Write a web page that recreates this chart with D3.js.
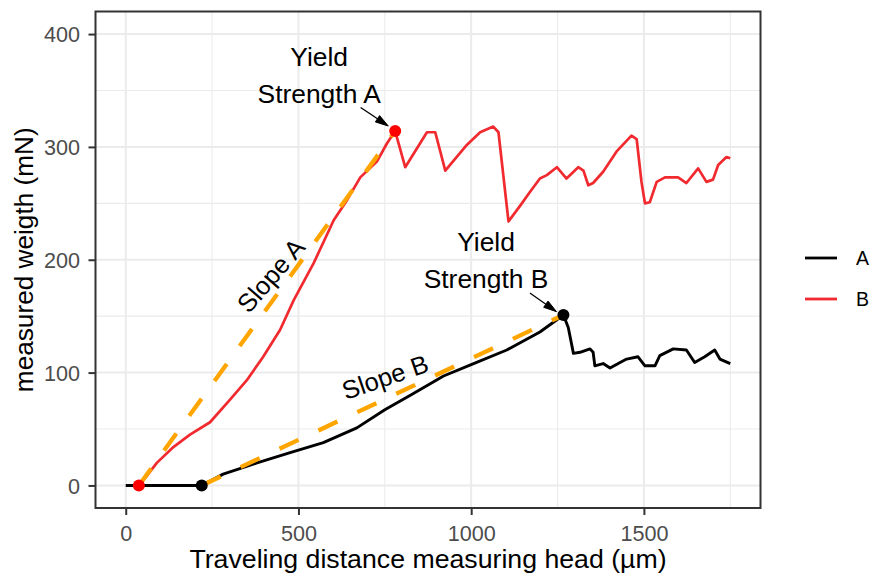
<!DOCTYPE html>
<html>
<head>
<meta charset="utf-8">
<script src="https://cdn.jsdelivr.net/npm/d3@7"></script>
<style>
  html, body { margin: 0; padding: 0; background: #fff; }
  svg { display: block; font-family: "Liberation Sans", Arial, sans-serif; }
</style>
</head>
<body>
<svg id="chart" width="872" height="575"></svg>
<script>
// Measurement A (black): travel distance (µm) and force (mN)
const distA = [0, 220, 282, 380, 476, 572, 669, 750, 824, 920, 1007, 1103, 1199, 1267,
  1281, 1296, 1315, 1344, 1353, 1358, 1382, 1402, 1431, 1450, 1483, 1503, 1532, 1546,
  1585, 1623, 1647, 1676, 1705, 1720, 1750];
const forceA = [0, 0, 10, 20, 29, 38, 51, 67, 80, 97, 108, 120, 136, 151,
  140, 117, 118, 121, 118, 106, 108, 104, 109, 112, 114, 106, 106, 115,
  121, 120, 109, 114, 120, 112, 108];

// Measurement B (red)
const distB = [38, 60, 90, 138, 186, 244, 302, 350, 398, 447, 486, 544, 602, 641, 679, 727,
  756, 780, 809, 872, 896, 925, 988, 1026, 1064, 1079, 1108, 1142, 1170, 1199, 1219,
  1248, 1276, 1310, 1325, 1339, 1353, 1382, 1421, 1464, 1479, 1493, 1503, 1517, 1537,
  1561, 1599, 1623, 1657, 1681, 1700, 1715, 1739, 1750];
const forceB = [0, 8, 20, 34, 45, 56, 76, 93, 114, 138, 164, 197, 235, 253, 273, 287,
  303, 314, 282, 313, 313, 279, 302, 313, 318, 313, 234, 248, 260, 272, 275,
  282, 272, 282, 279, 266, 268, 278, 296, 310, 307, 269, 250, 251, 269,
  273, 273, 268, 281, 269, 271, 284, 291, 290];

// Elastic onset and yield points (A label sits on the red curve, B on the black one)
const onsetX = [38, 220];
const onsetY = [0, 0];
const yieldX = [780, 1267];
const yieldY = [314, 151];

// Tick values
const xTicks = [0, 500, 1000, 1500];
const yTicks = [0, 100, 200, 300, 400];
const legendLabels = ["A", "B"];

// Annotation text blocks and arrows
const annoX = [560, 1043];
const annoY = [355, 191];
const annoText = [["Yield", "Strength A"], ["Yield", "Strength B"]];
const arrowFromX = [680, 1170];
const arrowFromY = [335, 170.5];
const arrowToX = [760, 1247];
const arrowToY = [318.5, 154];

const slopeLabel = ["Slope A", "Slope B"];
const slopeLabelX = [420, 751];
const slopeLabelY = [186, 96];
const slopeLabelAngle = [-49, -19];

// ---- layout ----
const svg = d3.select("#chart");
const P = { left: 95.5, right: 760.5, top: 11.5, bottom: 508 };

const xr = [0, 1750], yr = [0, 400];
const xPad = (xr[1] - xr[0]) * 0.05, yPad = (yr[1] - yr[0]) * 0.05;
const x = d3.scaleLinear().domain([xr[0] - xPad, xr[1] + xPad]).range([P.left, P.right]);
const y = d3.scaleLinear().domain([yr[0] - yPad, yr[1] + yPad]).range([P.bottom, P.top]);

const colA = "#000000", colB = "#f02a2f", colSlope = "#FFA500";
const gridCol = "#EBEBEB";

svg.append("rect").attr("width", 872).attr("height", 575).attr("fill", "#fff");

svg.append("defs").append("clipPath").attr("id", "panel")
  .append("rect").attr("x", P.left).attr("y", P.top)
  .attr("width", P.right - P.left).attr("height", P.bottom - P.top);

// grid
const grid = svg.append("g").attr("clip-path", "url(#panel)");
const xMinor = [-250, 250, 750, 1250, 1750];
const yMinor = [50, 150, 250, 350];
grid.selectAll(".xm").data(xMinor).join("line")
  .attr("x1", d => x(d)).attr("x2", d => x(d)).attr("y1", P.top).attr("y2", P.bottom)
  .attr("stroke", gridCol).attr("stroke-width", 1.1);
grid.selectAll(".ym").data(yMinor).join("line")
  .attr("y1", d => y(d)).attr("y2", d => y(d)).attr("x1", P.left).attr("x2", P.right)
  .attr("stroke", gridCol).attr("stroke-width", 1.1);
grid.selectAll(".xM").data(xTicks).join("line")
  .attr("x1", d => x(d)).attr("x2", d => x(d)).attr("y1", P.top).attr("y2", P.bottom)
  .attr("stroke", gridCol).attr("stroke-width", 2);
grid.selectAll(".yM").data(yTicks).join("line")
  .attr("y1", d => y(d)).attr("y2", d => y(d)).attr("x1", P.left).attr("x2", P.right)
  .attr("stroke", gridCol).attr("stroke-width", 2);

// data layer
const plot = svg.append("g").attr("clip-path", "url(#panel)");
const line = d3.line().x(d => x(d[0])).y(d => y(d[1]));

plot.append("path").datum(distA.map((d, i) => [d, forceA[i]]))
  .attr("d", line).attr("fill", "none").attr("stroke", colA)
  .attr("stroke-width", 2.9).attr("stroke-linejoin", "round");
plot.append("path").datum(distB.map((d, i) => [d, forceB[i]]))
  .attr("d", line).attr("fill", "none").attr("stroke", colB)
  .attr("stroke-width", 2.7).attr("stroke-linejoin", "round");

// dashed slope lines from onset to yield point (first = red curve, second = black curve)
const slopeOrder = [0, 1];
plot.selectAll(".slope").data(slopeOrder).join("line")
  .attr("x1", i => x(onsetX[i])).attr("y1", i => y(onsetY[i]))
  .attr("x2", i => x(yieldX[i])).attr("y2", i => y(yieldY[i]))
  .attr("stroke", colSlope).attr("stroke-width", 4.3)
  .attr("stroke-dasharray", "21,22");

// points
const ptCol = ["#ff0000", "#000000"];
plot.selectAll(".onset").data(slopeOrder).join("circle")
  .attr("cx", i => x(onsetX[i])).attr("cy", i => y(onsetY[i])).attr("r", 6)
  .attr("fill", i => ptCol[i]);
plot.selectAll(".yield").data(slopeOrder).join("circle")
  .attr("cx", i => x(yieldX[i])).attr("cy", i => y(yieldY[i])).attr("r", 6)
  .attr("fill", i => ptCol[i]);

// annotation arrows
slopeOrder.forEach(i => {
  const x1 = x(arrowFromX[i]), y1 = y(arrowFromY[i]);
  const x2 = x(arrowToX[i]), y2 = y(arrowToY[i]);
  const ang = Math.atan2(y2 - y1, x2 - x1);
  const L = 13, hw = 3.8;
  const bx = x2 - L * Math.cos(ang), by = y2 - L * Math.sin(ang);
  svg.append("line").attr("x1", x1).attr("y1", y1).attr("x2", bx).attr("y2", by)
    .attr("stroke", "#000").attr("stroke-width", 1.3);
  svg.append("path")
    .attr("d", `M${x2},${y2}L${bx + hw * Math.sin(ang)},${by - hw * Math.cos(ang)}L${bx - hw * Math.sin(ang)},${by + hw * Math.cos(ang)}Z`)
    .attr("fill", "#000").attr("stroke", "#000").attr("stroke-width", 1);
});

// annotation text
slopeOrder.forEach(i => {
  const t = svg.append("text").attr("text-anchor", "middle")
    .attr("font-size", 26.4).attr("fill", "#000");
  annoText[i].forEach((s, k) => {
    t.append("tspan").attr("x", x(annoX[i]))
      .attr("y", y(annoY[i]) + (k - 0.5) * 37).text(s);
  });
});

slopeOrder.forEach(i => {
  svg.append("text")
    .attr("transform", `translate(${x(slopeLabelX[i])},${y(slopeLabelY[i])}) rotate(${slopeLabelAngle[i]})`)
    .attr("text-anchor", "middle").attr("dy", "0.35em")
    .attr("font-size", 25.5).attr("fill", "#000").text(slopeLabel[i]);
});

// axes
const xAxis = d3.axisBottom(x).tickValues(xTicks).tickFormat(d3.format("d"))
  .tickSize(7).tickPadding(10.5);
const yAxis = d3.axisLeft(y).tickValues(yTicks).tickFormat(d3.format("d"))
  .tickSize(7).tickPadding(8.5);

const gx = svg.append("g").attr("transform", `translate(0,${P.bottom})`).call(xAxis);
const gy = svg.append("g").attr("transform", `translate(${P.left},0)`).call(yAxis);
[gx, gy].forEach(g => {
  g.select(".domain").remove();
  g.selectAll(".tick line").attr("stroke", "#333").attr("stroke-width", 2);
  g.selectAll(".tick text").attr("fill", "#4D4D4D").attr("font-size", 21.6)
    .attr("font-family", "Liberation Sans, Arial, sans-serif");
});
gy.selectAll(".tick text").attr("dy", "0.36em");

// panel border
svg.append("rect").attr("x", P.left).attr("y", P.top)
  .attr("width", P.right - P.left).attr("height", P.bottom - P.top)
  .attr("fill", "none").attr("stroke", "#333").attr("stroke-width", 2);

// axis titles
svg.append("text").attr("x", (P.left + P.right) / 2).attr("y", 568)
  .attr("text-anchor", "middle").attr("font-size", 26.7).attr("fill", "#000")
  .text("Traveling distance measuring head (µm)");
svg.append("text")
  .attr("transform", `translate(33,${(P.top + P.bottom) / 2}) rotate(-90)`)
  .attr("text-anchor", "middle").attr("font-size", 26.2).attr("fill", "#000")
  .text("measured weigth (mN)");

// legend
const legCol = [colA, colB];
const leg = svg.append("g");
legendLabels.forEach((lab, i) => {
  const cy = 258 + i * 41;
  leg.append("line").attr("x1", 805).attr("x2", 837).attr("y1", cy).attr("y2", cy)
    .attr("stroke", legCol[i]).attr("stroke-width", 2.8);
  leg.append("text").attr("x", 856).attr("y", cy).attr("dy", "0.36em")
    .attr("font-size", 19.5).attr("fill", "#000").text(lab);
});
</script>
</body>
</html>
